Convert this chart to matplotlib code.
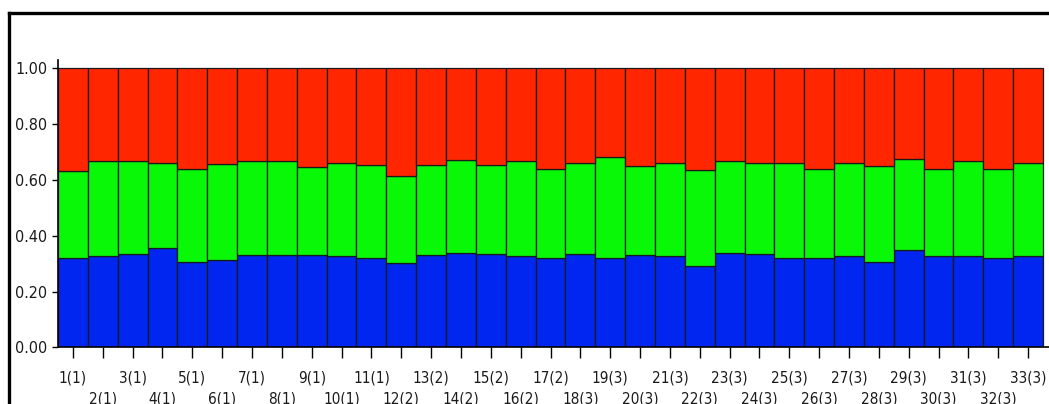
import matplotlib
matplotlib.use("Agg")
import matplotlib.pyplot as plt
from matplotlib.lines import Line2D
import numpy as np

# proporcoes de cada cluster por individuo
labels = ["1(1)", "2(1)", "3(1)", "4(1)", "5(1)", "6(1)", "7(1)", "8(1)", "9(1)",
          "10(1)", "11(1)", "12(2)", "13(2)", "14(2)", "15(2)", "16(2)", "17(2)",
          "18(3)", "19(3)", "20(3)", "21(3)", "22(3)", "23(3)", "24(3)", "25(3)",
          "26(3)", "27(3)", "28(3)", "29(3)", "30(3)", "31(3)", "32(3)", "33(3)"]
blue = [0.321, 0.327, 0.334, 0.357, 0.307, 0.314, 0.332, 0.332, 0.332, 0.327, 0.319,
        0.301, 0.331, 0.339, 0.333, 0.327, 0.321, 0.333, 0.321, 0.331, 0.327, 0.291,
        0.339, 0.333, 0.321, 0.321, 0.327, 0.306, 0.349, 0.327, 0.327, 0.321, 0.327]
# topo do verde (acumulado)
green_top = [0.633, 0.668, 0.668, 0.661, 0.641, 0.656, 0.668, 0.668, 0.646, 0.661, 0.655,
             0.614, 0.655, 0.672, 0.655, 0.667, 0.640, 0.661, 0.682, 0.649, 0.660, 0.637,
             0.667, 0.661, 0.661, 0.640, 0.660, 0.649, 0.676, 0.640, 0.668, 0.640, 0.661]

blue = np.array(blue)
green = np.array(green_top) - blue
red = 1.0 - np.array(green_top)

x = np.arange(len(labels))

fig = plt.figure(figsize=(10.49, 4.04), dpi=100)
ax = fig.add_axes([58/1049, 1 - 347.3/404, 1 - 58/1049, (347.3 - 60)/404])

kw = dict(width=1.0, edgecolor="#1a1a1a", linewidth=0.9)
ax.bar(x, blue, color="#0026f0", **kw)
ax.bar(x, green, bottom=blue, color="#08f808", **kw)
ax.bar(x, red, bottom=blue + green, color="#ff2600", **kw)

ax.set_xlim(-0.5, 32.7)
ax.set_ylim(0, 1.03)
ax.set_yticks([0, 0.2, 0.4, 0.6, 0.8, 1.0])
ax.set_yticklabels(["0.00", "0.20", "0.40", "0.60", "0.80", "1.00"],
                   fontsize=11.5, fontstretch="condensed", color="#1a1a1a")
ax.set_xticks(x)
ax.set_xticklabels(labels, fontsize=11, fontstretch="condensed", color="#1a1a1a")
ax.tick_params(axis="x", length=8, width=1, pad=9)
ax.tick_params(axis="y", length=4.5, width=1, pad=3)

# rotulos pares numa segunda linha
for i, t in enumerate(ax.xaxis.get_major_ticks()):
    if i % 2 == 1:
        t.set_pad(23.5)

for s in ["top", "right"]:
    ax.spines[s].set_visible(False)
ax.spines["left"].set_linewidth(1.2)
ax.spines["bottom"].set_linewidth(1.2)

# moldura preta (cortada a direita e embaixo)
fig.add_artist(Line2D([8.5/1049, 1.0], [1 - 12.5/404, 1 - 12.5/404],
                      transform=fig.transFigure, color="black", lw=2.4))
fig.add_artist(Line2D([8.5/1049, 8.5/1049], [0.0, 1 - 12.5/404],
                      transform=fig.transFigure, color="black", lw=2.4))

fig.savefig("out.png", dpi=100)
